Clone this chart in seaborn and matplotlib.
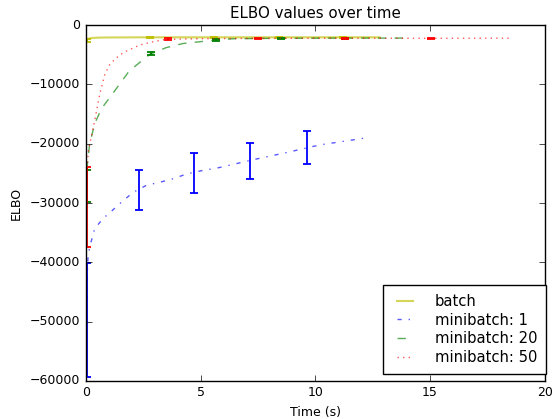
import seaborn as sns
import matplotlib
matplotlib.use("Agg")
import matplotlib.pyplot as plt

# ELBO curves
batch_t = [0, 0.1, 0.3, 0.6, 1.0, 2.0, 4.0, 6.0, 8.0, 10.0, 12.8]
batch_v = [-2600, -2300, -2150, -2100, -2080, -2060, -2050, -2050, -2050, -2050, -2050]

mb1_t = [0.04, 0.06, 0.1, 0.17, 0.39, 0.76, 1.2, 1.63, 2.07, 2.65, 3.23, 3.81,
         4.4, 4.98, 5.85, 7.29, 8.74, 10.2, 12.25]
mb1_v = [-49700, -42000, -39000, -37400, -34300, -32600, -31100, -29600, -28200,
         -27000, -26500, -25900, -25100, -24600, -24000, -22700, -21500, -20200, -19000]

mb20_t = [0.04, 0.07, 0.17, 0.4, 0.7, 1.2, 1.9, 2.8, 3.5, 4.24, 4.97, 5.7, 6.4,
          7.5, 8.5, 10.0, 12.0, 14.1]
mb20_v = [-27200, -23500, -20000, -16500, -14000, -11400, -7700, -4900, -3800,
          -3100, -2800, -2500, -2300, -2250, -2220, -2200, -2180, -2180]

mb50_t = [0.04, 0.06, 0.12, 0.39, 0.61, 0.83, 1.05, 1.34, 1.63, 1.92, 2.35, 2.93,
          3.5, 5.0, 7.5, 11.3, 15.0, 18.6]
mb50_v = [-30700, -24000, -21000, -16100, -11600, -8300, -6600, -5500, -4650,
          -4100, -3360, -2800, -2400, -2280, -2230, -2200, -2220, -2200]

# error bars (mean +/- std) at a few time points
batch_et = [0.04, 2.8, 5.6, 8.4, 11.2]
batch_em = [-2600, -2060, -2050, -2050, -2050]
batch_es = [250, 80, 60, 60, 60]

mb1_et = [0.04, 2.32, 4.72, 7.17, 9.64]
mb1_em = [-49700, -27750, -24950, -22900, -20700]
mb1_es = [9600, 3350, 3350, 3000, 2800]

mb20_et = [0.04, 2.83, 5.66, 8.5, 11.3]
mb20_em = [-27200, -4800, -2500, -2220, -2190]
mb20_es = [2700, 250, 100, 80, 80]

mb50_et = [0.04, 3.6, 7.5, 11.3, 15.05]
mb50_em = [-30700, -2380, -2230, -2200, -2220]
mb50_es = [6800, 150, 100, 100, 100]

plt.style.use('classic')
plt.rcParams['font.family'] = ['DejaVu Sans']
plt.rcParams['font.size'] = 9
plt.rcParams['axes.unicode_minus'] = True
plt.rcParams['figure.facecolor'] = 'white'
plt.rcParams['savefig.facecolor'] = 'white'

fig = plt.figure(figsize=(5.57, 4.19), dpi=100)
ax = fig.add_axes([0.154, 0.091, 0.824, 0.849])

series = [
    (batch_t, batch_v, batch_et, batch_em, batch_es, 'y', '-', 1.5, 'batch'),
    (mb1_t, mb1_v, mb1_et, mb1_em, mb1_es, 'b', '-.', 1.0, 'minibatch: 1'),
    (mb20_t, mb20_v, mb20_et, mb20_em, mb20_es, 'g', '--', 1.0, 'minibatch: 20'),
    (mb50_t, mb50_v, mb50_et, mb50_em, mb50_es, 'r', ':', 1.0, 'minibatch: 50'),
]

for t, v, et, em, es, c, ls, lw, lab in series:
    sns.lineplot(x=t, y=v, color=c, linestyle=ls, alpha=0.65, linewidth=lw,
                 label=lab, ax=ax, sort=True, estimator=None)
    ax.errorbar(et, em, yerr=es, fmt='none', ecolor=c, elinewidth=1.3,
                capsize=3, capthick=1.3)

ax.set_xlim(0, 20)
ax.set_ylim(-60000, 0)
ax.set_title("ELBO values over time")
ax.set_xlabel("Time (s)")
ax.set_ylabel("ELBO")
ax.legend(loc='lower right', fontsize=10.6, handlelength=1.75, handletextpad=1.15,
          borderpad=0.6, labelspacing=0.25, borderaxespad=0,
          bbox_to_anchor=(1.003, 0.02))

plt.savefig('out.png', dpi=100)
